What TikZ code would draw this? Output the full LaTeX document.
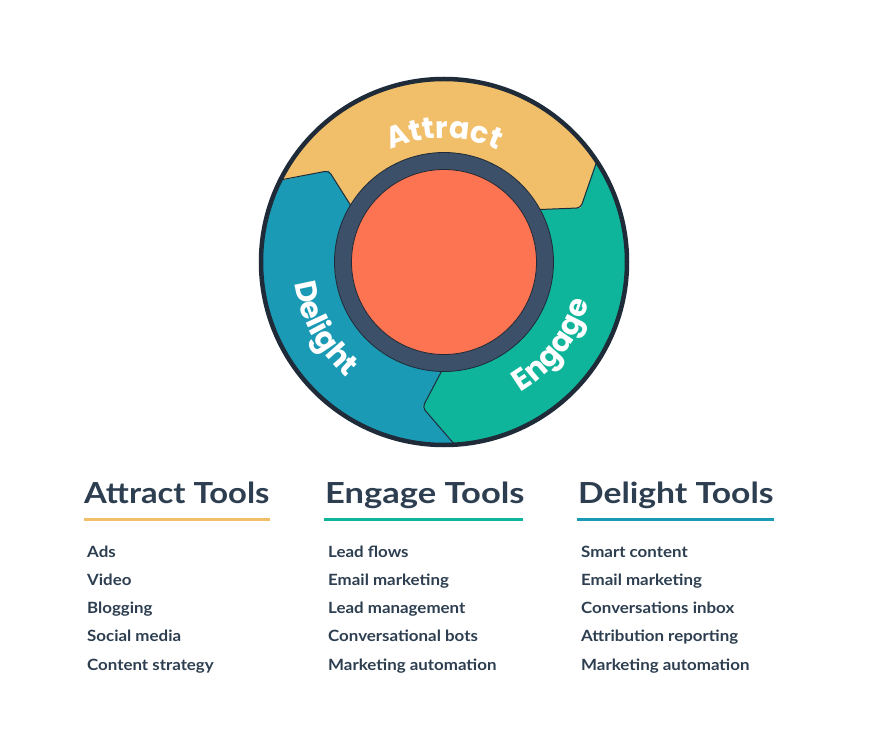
\documentclass[tikz,border=0pt]{standalone}
\usepackage{fontspec}
\setmainfont{Lato}
\newfontfamily\popfont{Poppins}
\newfontfamily\itemfont{Lato}[FakeStretch=1.09]
\usetikzlibrary{decorations.text}
\definecolor{cyellow}{HTML}{F1BE6A}
\definecolor{cteal}{HTML}{0FB59B}
\definecolor{cblue}{HTML}{1A9AB4}
\definecolor{corange}{HTML}{FC7452}
\definecolor{cring}{HTML}{3C5069}
\definecolor{cdark}{HTML}{1F2B38}
\definecolor{ctext}{HTML}{2D3E50}
\newcommand\lblfont{\popfont\bfseries\fontsize{30}{30}\selectfont\color{white}}
\newcommand\hx[2]{\scalebox{#1}[1]{#2}}
\tikzset{
  bdr/.style={draw=cdark, line width=1pt, rounded corners=4pt},
  heading/.style={font=\fontsize{29}{29}\selectfont\bfseries, text=ctext, inner sep=0pt, anchor=base west},
  item/.style={font=\itemfont\fontsize{15.5}{15.5}\selectfont\bfseries, text=ctext, inner sep=0pt, anchor=base west},
  uline/.style={line width=3pt, draw=#1},
  curvelbl/.style={decorate, decoration={text along path, text align=center, text={|\lblfont|#1}}}
}
\begin{document}
\begin{tikzpicture}[x=1pt,y=1pt]
\useasboundingbox (-444,-471) rectangle (439,262);
% segments
\fill[cyellow] (153.6:183) arc[start angle=153.6, end angle=33.6, radius=183] -- (21.6:147) -- (29.6:106) arc[start angle=29.6, end angle=149.6, radius=106] -- (141.6:147) -- cycle;
\fill[cteal] (33.6:183) arc[start angle=33.6, end angle=-86.4, radius=183] -- (-98.4:147) -- (-90.4:106) arc[start angle=-90.4, end angle=29.6, radius=106] -- (21.6:147) -- cycle;
\fill[cblue] (273.6:183) arc[start angle=273.6, end angle=153.6, radius=183] -- (141.6:147) -- (149.6:106) arc[start angle=149.6, end angle=269.6, radius=106] -- (261.6:147) -- cycle;
% boundaries
\draw[bdr] (153.6:184) -- (141.6:147) -- (149.6:106);
\draw[bdr] (33.6:184) -- (21.6:147) -- (29.6:106);
\draw[bdr] (273.6:184) -- (261.6:147) -- (269.6:106);
% outer ring
\draw[cdark, line width=4.5pt] (0,0) circle[radius=183];
% hub
\node[circle, fill=cring, draw=cdark, line width=0.8pt, minimum size=219pt, inner sep=0pt] (ring) at (0,0) {};
\node[circle, fill=corange, draw=cdark, line width=0.8pt, minimum size=185pt, inner sep=0pt] (hub) at (0,0) {};
% curved labels
\path[curvelbl=Attract] (118:124) arc[start angle=118, end angle=62, radius=124];
\path[curvelbl=Delight] (183:151) arc[start angle=183, end angle=235, radius=151];
\path[curvelbl=Engage] (296:151) arc[start angle=296, end angle=349, radius=151];
% headings
\node[heading] (ha) at (-360,-241) {\hx{1.13}{Attract Tools}};
\node[heading] (he) at (-119,-241) {\hx{1.19}{Engage Tools}};
\node[heading] (hd) at (134,-241) {\hx{1.16}{Delight Tools}};
\draw[uline=cyellow] (-360,-257) -- (-174,-257);
\draw[uline=cteal] (-120,-257) -- (79,-257);
\draw[uline=cblue] (133,-257) -- (330,-257);
% items
\foreach \t [count=\i] in {Ads,Video,Blogging,Social media,Content strategy}
  \node[item] (a\i) at (-357,{-295-28.3*(\i-1)}) {\t};
\foreach \t [count=\i] in {Lead flows,Email marketing,Lead management,Conversational bots,Marketing automation}
  \node[item] (e\i) at (-116,{-295-28.3*(\i-1)}) {\t};
\foreach \t [count=\i] in {Smart content,Email marketing,Conversations inbox,Attribution reporting,Marketing automation}
  \node[item] (d\i) at (137,{-295-28.3*(\i-1)}) {\t};
\end{tikzpicture}
\end{document}
